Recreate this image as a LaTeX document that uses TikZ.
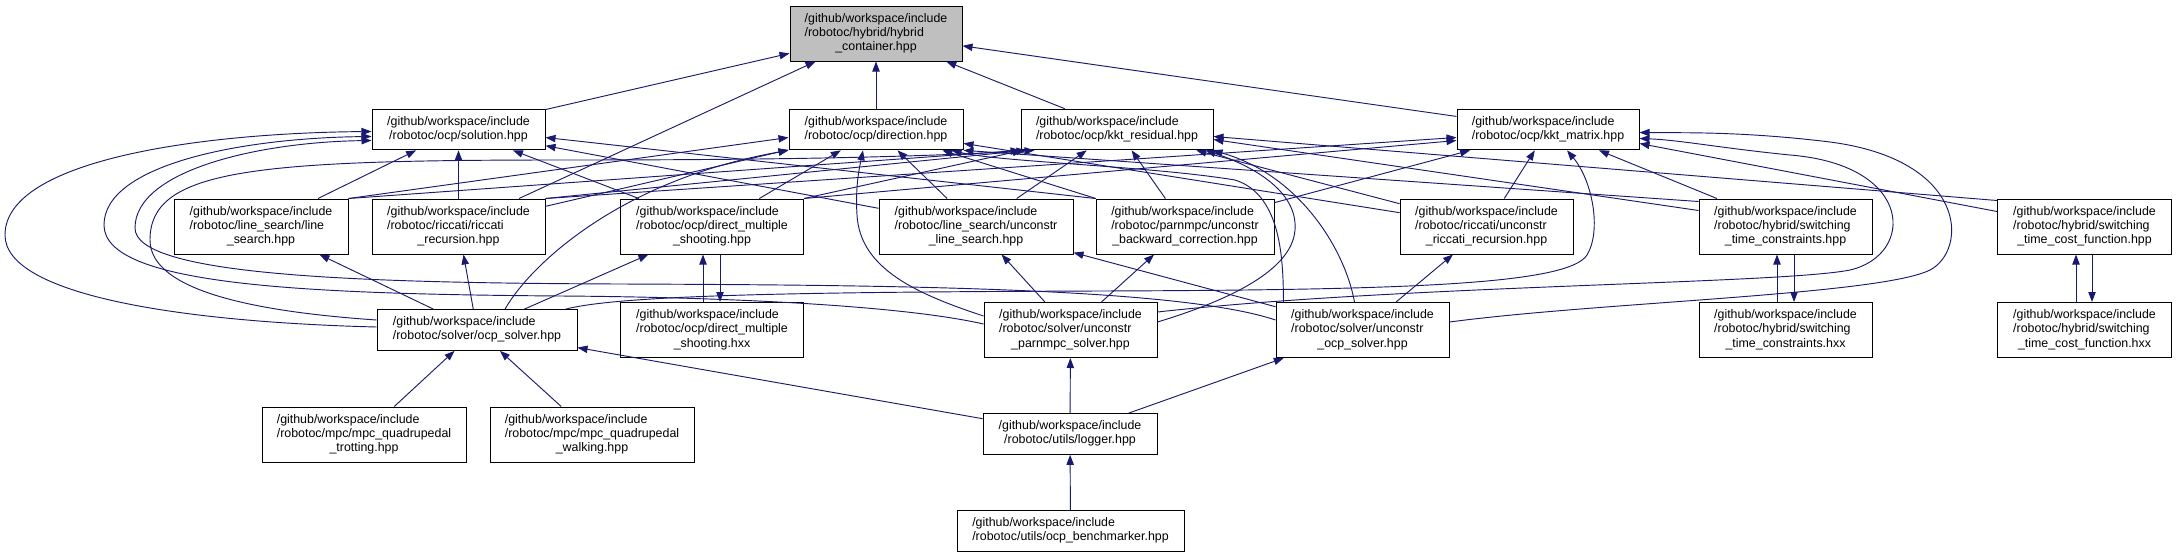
\documentclass[tikz,border=0pt]{standalone}
\usepackage{fontspec}
\setmainfont{Liberation Sans}
\usetikzlibrary{arrows.meta,calc}
\definecolor{edgeblue}{HTML}{191970}
\definecolor{focusgray}{HTML}{BFBFBF}
\newcommand{\gwi}{/github/workspace/include}
\newcommand{\ftwo}[1]{\begin{tabular}{@{}l@{}}\gwi\\\multicolumn{1}{@{}c@{}}{#1}\end{tabular}}
\newcommand{\fthree}[2]{\begin{tabular}{@{}l@{}}\gwi\\#1\\\multicolumn{1}{@{}c@{}}{#2}\end{tabular}}
\tikzset{
  file/.style={draw=black, line width=0.75pt, fill=white, inner sep=0pt,
    font=\fontsize{9.3}{10.7}\selectfont, minimum height=41.25pt},
  two/.style={minimum height=30.5pt},
  bw/.style={minimum width=#1*0.75pt},
  inc/.style={draw=edgeblue, line width=0.7pt, -{Triangle[length=7.5pt,width=5.5pt]}}
}
\begin{document}
\begin{tikzpicture}[x=0.75pt,y=-0.75pt]
\path[use as bounding box, fill=white] (0,0) rectangle (2176,557);

\node[file, bw=172, fill=focusgray] (hc) at (876,33.5) {\fthree{/robotoc/hybrid/hybrid}{\_container.hpp}};

\node[file, two, bw=173] (sol) at (458.5,129.5) {\ftwo{/robotoc/ocp/solution.hpp}};
\node[file, two, bw=174] (dir) at (876,129.5) {\ftwo{/robotoc/ocp/direction.hpp}};
\node[file, two, bw=192] (kres) at (1117,129.5) {\ftwo{/robotoc/ocp/kkt\_residual.hpp}};
\node[file, two, bw=182] (kmat) at (1548,129.5) {\ftwo{/robotoc/ocp/kkt\_matrix.hpp}};

\node[file, bw=174] (ls) at (261,226.5) {\fthree{/robotoc/line\_search/line}{\_search.hpp}};
\node[file, bw=173] (rr) at (458.5,226.5) {\fthree{/robotoc/riccati/riccati}{\_recursion.hpp}};
\node[file, bw=183] (dms) at (712,226.5) {\fthree{/robotoc/ocp/direct\_multiple}{\_shooting.hpp}};
\node[file, bw=194] (uls) at (976,226.5) {\fthree{/robotoc/line\_search/unconstr}{\_line\_search.hpp}};
\node[file, bw=178] (ubc) at (1185,226.5) {\fthree{/robotoc/parnmpc/unconstr}{\_backward\_correction.hpp}};
\node[file, bw=173] (urr) at (1486.5,226.5) {\fthree{/robotoc/riccati/unconstr}{\_riccati\_recursion.hpp}};
\node[file, bw=173] (stc) at (1785.5,226.5) {\fthree{/robotoc/hybrid/switching}{\_time\_constraints.hpp}};
\node[file, bw=174] (stf) at (2084.5,226.5) {\fthree{/robotoc/hybrid/switching}{\_time\_cost\_function.hpp}};

\node[file, two, bw=200] (ocps) at (477,330) {\ftwo{/robotoc/solver/ocp\_solver.hpp}};
\node[file, bw=183] (dmx) at (712,330) {\fthree{/robotoc/ocp/direct\_multiple}{\_shooting.hxx}};
\node[file, bw=173] (upar) at (1070.5,330) {\fthree{/robotoc/solver/unconstr}{\_parnmpc\_solver.hpp}};
\node[file, bw=173] (uocp) at (1362.5,330) {\fthree{/robotoc/solver/unconstr}{\_ocp\_solver.hpp}};
\node[file, bw=173] (stcx) at (1785.5,330) {\fthree{/robotoc/hybrid/switching}{\_time\_constraints.hxx}};
\node[file, bw=174] (stfx) at (2084.5,330) {\fthree{/robotoc/hybrid/switching}{\_time\_cost\_function.hxx}};

\node[file, bw=204] (trot) at (364,434.5) {\fthree{/robotoc/mpc/mpc\_quadrupedal}{\_trotting.hpp}};
\node[file, bw=204] (walk) at (592,434.5) {\fthree{/robotoc/mpc/mpc\_quadrupedal}{\_walking.hpp}};
\node[file, two, bw=174] (log) at (1070,434) {\ftwo{/robotoc/utils/logger.hpp}};
\node[file, two, bw=227] (bench) at (1070.5,531) {\ftwo{/robotoc/utils/ocp\_benchmarker.hpp}};

% into hybrid_container
\draw[inc] (sol) -- (hc);
\draw[inc] (rr) -- (hc);
\draw[inc] (dir) -- (hc);
\draw[inc] (kres) -- (hc);
\draw[inc] (kmat) -- (hc);

% into solution
\draw[inc] (ls) -- (sol);
\draw[inc] (rr) -- (sol);
\draw[inc] (dms) -- (sol);
\draw[inc] (uls) -- (sol);
\draw[inc] (ubc.north west) -- ($(sol.east)+(0,8)$);
\draw[inc] ($(ocps.west)+(0,-3)$) .. controls (180,322) and (5,295) .. (5,235)
  .. controls (5,160) and (200,133) .. ($(sol.west)+(0,2)$);
\draw[inc] ($(upar.west)+(0,-6)$) .. controls (900,305) and (720,297) .. (560,296)
  .. controls (300,294) and (104,285) .. (104,225)
  .. controls (104,165) and (240,138) .. ($(sol.west)+(0,7)$);
\draw[inc] ($(uocp.west)+(0,-10)$) .. controls (1180,288) and (900,285) .. (620,284)
  .. controls (360,283) and (135,276) .. (135,228)
  .. controls (135,170) and (260,142) .. ($(sol.west)+(0,11)$);

% into direction
\draw[inc] (ls.north east) -- ($(dir.west)+(0,8)$);
\draw[inc] (rr) -- (dir);
\draw[inc] (dms) -- (dir);
\draw[inc] (uls) -- (dir);
\draw[inc] (ubc) -- (dir);
\draw[inc] (urr) -- (dir);
\draw[inc] ($(stc.north west)+(0,3)$) -- (dir.south east);
\draw[inc] ($(ocps.north)+(28,0)$) .. controls (530,265) and (620,180) .. (dir.south west);
\draw[inc] ($(upar.west)+(0,-14)$) .. controls (920,295) and (860,270) .. (857,215)
  .. controls (855,185) and (860,165) .. ($(dir.south)+(-13,0)$);
\draw[inc] ($(uocp.north west)+(8,0)$) .. controls (1283,265) and (1283,195) .. (1235,180)
  .. controls (1150,166) and (1000,162) .. ($(dir.south east)+(-12,0)$);

% into kkt_residual
\draw[inc] (ls.north east) -- (kres.south west);
\draw[inc] (rr.north east) -- ($(kres.south west)+(6,0)$);
\draw[inc] (dms.north east) -- (kres);
\draw[inc] (uls) -- (kres);
\draw[inc] (ubc) -- (kres);
\draw[inc] (urr) -- (kres);
\draw[inc] ($(stc.north west)+(0,12)$) -- ($(kres.east)+(0,10)$);
\draw[inc] ($(stf.north west)+(0,2)$) -- ($(kres.east)+(0,7)$);
\draw[inc] ($(ocps.west)+(0,-10)$) .. controls (260,312) and (150,292) .. (150,240)
  .. controls (150,170) and (250,160) .. (560,160)
  .. controls (750,160) and (900,158) .. ($(kres.south west)+(14,0)$);
\draw[inc] ($(upar.east)+(0,-8)$) .. controls (1230,300) and (1292,270) .. (1295,230)
  .. controls (1298,190) and (1250,165) .. ($(kres.south east)+(-8,0)$);
\draw[inc] ($(uocp.north)+(-8,0)$) .. controls (1345,250) and (1300,175) .. ($(kres.south east)+(-1,0)$);

% into kkt_matrix
\draw[inc] (rr.north east) -- ($(kmat.west)+(0,8)$);
\draw[inc] (dms.north east) -- ($(kmat.west)+(0,11)$);
\draw[inc] (ubc) -- (kmat);
\draw[inc] (urr) -- (kmat);
\draw[inc] (stc) -- (kmat);
\draw[inc] ($(stf.north west)+(0,13)$) -- ($(kmat.east)+(0,14)$);
\draw[inc] ($(ocps.north east)+(-12,0)$) .. controls (620,295) and (800,292) .. (1100,291)
  .. controls (1400,290) and (1568,285) .. (1587,255)
  .. controls (1602,230) and (1592,180) .. ($(kmat.south)+(19,0)$);
\draw[inc] ($(upar.east)+(0,-18)$) .. controls (1400,285) and (1780,284) .. (1850,270)
  .. controls (1915,255) and (1915,165) .. (1790,155)
  .. controls (1720,148) and (1680,140) .. ($(kmat.east)+(0,9)$);
\draw[inc] ($(uocp.east)+(0,-8)$) .. controls (1600,302) and (1880,295) .. (1930,270)
  .. controls (1968,250) and (1968,160) .. (1830,142)
  .. controls (1740,131) and (1680,133) .. ($(kmat.east)+(0,3)$);

% hpp <-> hxx pairs
\draw[inc] ($(dmx.north)+(-9,0)$) -- ($(dms.south)+(-9,0)$);
\draw[inc] ($(dms.south)+(8,0)$) -- ($(dmx.north)+(8,0)$);
\draw[inc] ($(stcx.north)+(-8.5,0)$) -- ($(stc.south)+(-8.5,0)$);
\draw[inc] ($(stc.south)+(8.5,0)$) -- ($(stcx.north)+(8.5,0)$);
\draw[inc] ($(stfx.north)+(-8.5,0)$) -- ($(stf.south)+(-8.5,0)$);
\draw[inc] ($(stf.south)+(7.5,0)$) -- ($(stfx.north)+(7.5,0)$);

% solvers
\draw[inc] (ocps) -- (ls);
\draw[inc] (ocps) -- (rr);
\draw[inc] (ocps) -- (dms);
\draw[inc] (upar) -- (uls);
\draw[inc] (upar) -- (ubc);
\draw[inc] (uocp) -- (uls);
\draw[inc] (uocp) -- (urr);

% bottom rows
\draw[inc] (trot) -- (ocps);
\draw[inc] (walk) -- (ocps);
\draw[inc] (log) -- (ocps);
\draw[inc] (log) -- (upar);
\draw[inc] (log) -- (uocp);
\draw[inc] (bench) -- (log);
\end{tikzpicture}
\end{document}
